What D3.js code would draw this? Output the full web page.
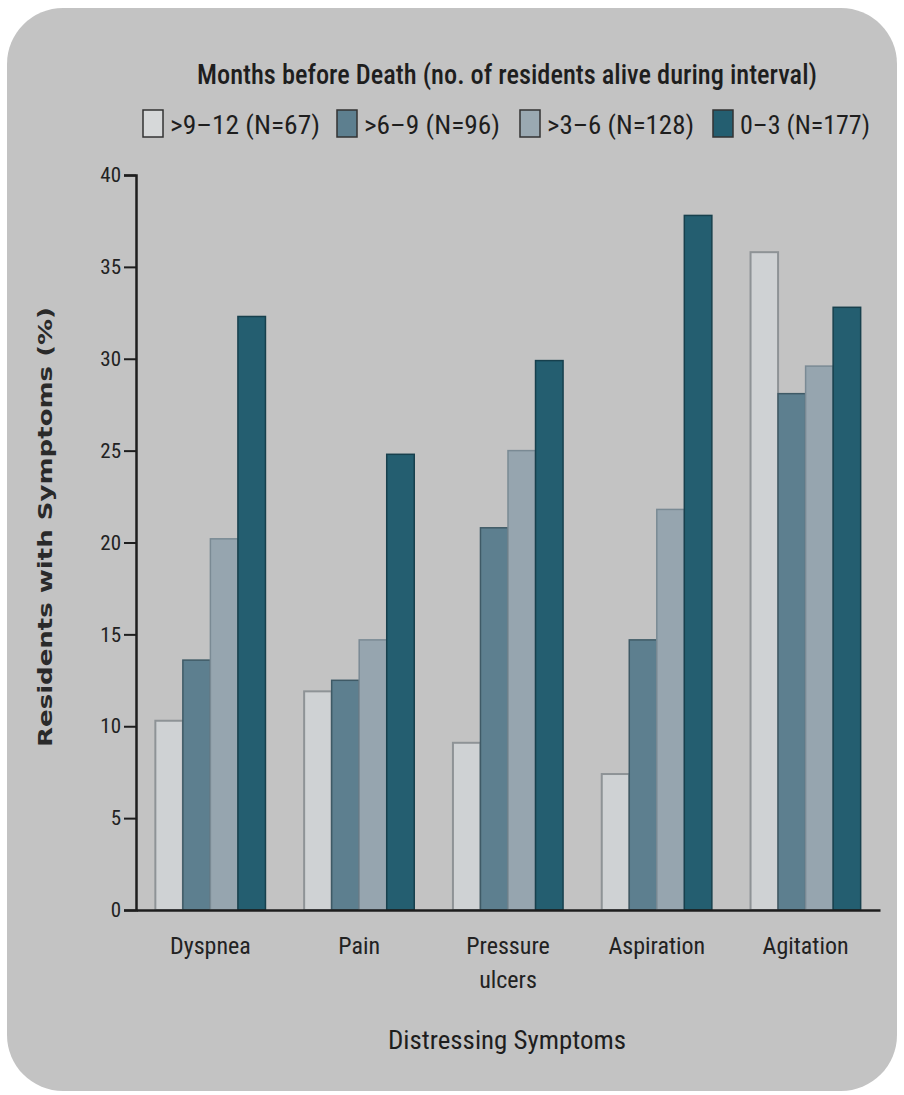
<!DOCTYPE html>
<html>
<head>
<meta charset="utf-8">
<script src="https://cdn.jsdelivr.net/npm/d3@7"></script>
<style>
  html, body { margin: 0; padding: 0; background: #ffffff; }
  svg { display: block; }
  .cond { font-family: "Liberation Sans Narrow", "Roboto Condensed", "DejaVu Sans Condensed", "Liberation Sans", sans-serif; }
</style>
</head>
<body>
<svg id="chart" width="904" height="1095"></svg>
<script>
const categories = ["Dyspnea", "Pain", "Pressure ulcers", "Aspiration", "Agitation"];
const categoryLines = [["Dyspnea"], ["Pain"], ["Pressure", "ulcers"], ["Aspiration"], ["Agitation"]];
const seriesNames = [">9–12 (N=67)", ">6–9 (N=96)", ">3–6 (N=128)", "0–3 (N=177)"];
const s9to12 = [10.3, 11.9, 9.1, 7.4, 35.8];
const s6to9  = [13.6, 12.5, 20.8, 14.7, 28.1];
const s3to6  = [20.2, 14.7, 25.0, 21.8, 29.6];
const s0to3  = [32.3, 24.8, 29.9, 37.8, 32.8];
const seriesValues = [s9to12, s6to9, s3to6, s0to3];
const yTicks = [0, 5, 10, 15, 20, 25, 30, 35, 40];

const fills   = ["#cfd2d4", "#5d7f8f", "#96a5af", "#245e70"];
const strokes = ["#8e9396", "#3f5a66", "#7a8a94", "#17404d"];
const legendFills = ["#d6d8d9", "#5d7f8f", "#9aa9b2", "#245e70"];

const svg = d3.select("#chart");

// rounded grey panel
svg.append("rect")
  .attr("x", 7).attr("y", 8).attr("width", 890).attr("height", 1083)
  .attr("rx", 56).attr("ry", 56)
  .attr("fill", "#c3c3c3");

const x0 = d3.scaleBand().domain(categories).range([136, 880]).paddingInner(0.26).paddingOuter(0.13);
const x1 = d3.scaleBand().domain(d3.range(seriesNames.length)).range([0, x0.bandwidth()]);
const y = d3.scaleLinear().domain([0, 40]).range([910, 175]);

// bars
const groups = svg.append("g").selectAll("g")
  .data(categories).join("g")
  .attr("transform", d => `translate(${x0(d)},0)`);

groups.selectAll("rect")
  .data((d, i) => seriesValues.map((vals, s) => ({ s, v: vals[i] })))
  .join("rect")
  .attr("x", d => x1(d.s))
  .attr("y", d => y(d.v))
  .attr("width", x1.bandwidth())
  .attr("height", d => y(0) - y(d.v))
  .attr("fill", d => fills[d.s])
  .attr("stroke", d => strokes[d.s])
  .attr("stroke-width", d => d.s === 0 ? 2 : 1.5);

// y axis
const yAxis = d3.axisLeft(y).tickValues(yTicks).tickSize(12).tickPadding(3).tickFormat(d3.format("d"));
const gy = svg.append("g").attr("transform", "translate(136,0)").call(yAxis);
gy.select(".domain").attr("stroke", "#1e1e1e").attr("stroke-width", 2.5);
gy.selectAll(".tick line").attr("stroke", "#1e1e1e").attr("stroke-width", 2);
gy.selectAll(".tick text")
  .attr("class", "cond")
  .attr("font-size", 21).attr("fill", "#222");

// x axis line
const xAxis = d3.axisBottom(x0).tickSize(0).tickFormat("");
const gx = svg.append("g").attr("transform", "translate(0,910)").call(xAxis);
gx.select(".domain").attr("stroke", "#1e1e1e").attr("stroke-width", 2.5);

// category labels
categories.forEach((c, i) => {
  const cx = x0(c) + x0.bandwidth() / 2;
  const t = svg.append("text").attr("class", "cond")
    .attr("x", cx).attr("y", 954)
    .attr("text-anchor", "middle")
    .attr("font-size", 24).attr("fill", "#222");
  categoryLines[i].forEach((line, k) => {
    t.append("tspan").attr("x", cx).attr("dy", k === 0 ? 0 : 34).text(line);
  });
});

// x axis title
svg.append("text").attr("class", "cond")
  .attr("x", 507).attr("y", 1049)
  .attr("text-anchor", "middle")
  .attr("font-size", 26).attr("fill", "#1e1e1e")
  .attr("textLength", 238).attr("lengthAdjust", "spacingAndGlyphs")
  .text("Distressing Symptoms");

// y axis title
svg.append("text")
  .attr("transform", "translate(52,527) rotate(-90)")
  .attr("text-anchor", "middle")
  .attr("font-family", "DejaVu Sans, Verdana, sans-serif")
  .attr("font-weight", "bold")
  .attr("font-size", 19).attr("fill", "#2a2a2a")
  .attr("textLength", 440).attr("lengthAdjust", "spacingAndGlyphs")
  .text("Residents with Symptoms (%)");

// legend title
svg.append("text").attr("class", "cond")
  .attr("x", 507).attr("y", 84)
  .attr("text-anchor", "middle")
  .attr("font-size", 27).attr("font-weight", 500).attr("fill", "#1e1e1e")
  .attr("textLength", 620).attr("lengthAdjust", "spacingAndGlyphs")
  .text("Months before Death (no. of residents alive during interval)");

// legend
const legendBoxX = [143, 337, 520, 713];
const legendTextLen = [150, 136, 147, 130];
seriesNames.forEach((name, i) => {
  svg.append("rect")
    .attr("x", legendBoxX[i]).attr("y", 110)
    .attr("width", 20).attr("height", 27)
    .attr("fill", legendFills[i])
    .attr("stroke", "#333").attr("stroke-width", 1.5);
  svg.append("text").attr("class", "cond")
    .attr("x", legendBoxX[i] + 27).attr("y", 134)
    .attr("font-size", 26).attr("fill", "#1e1e1e")
    .attr("textLength", legendTextLen[i]).attr("lengthAdjust", "spacingAndGlyphs")
    .text(name);
});
</script>
</body>
</html>
